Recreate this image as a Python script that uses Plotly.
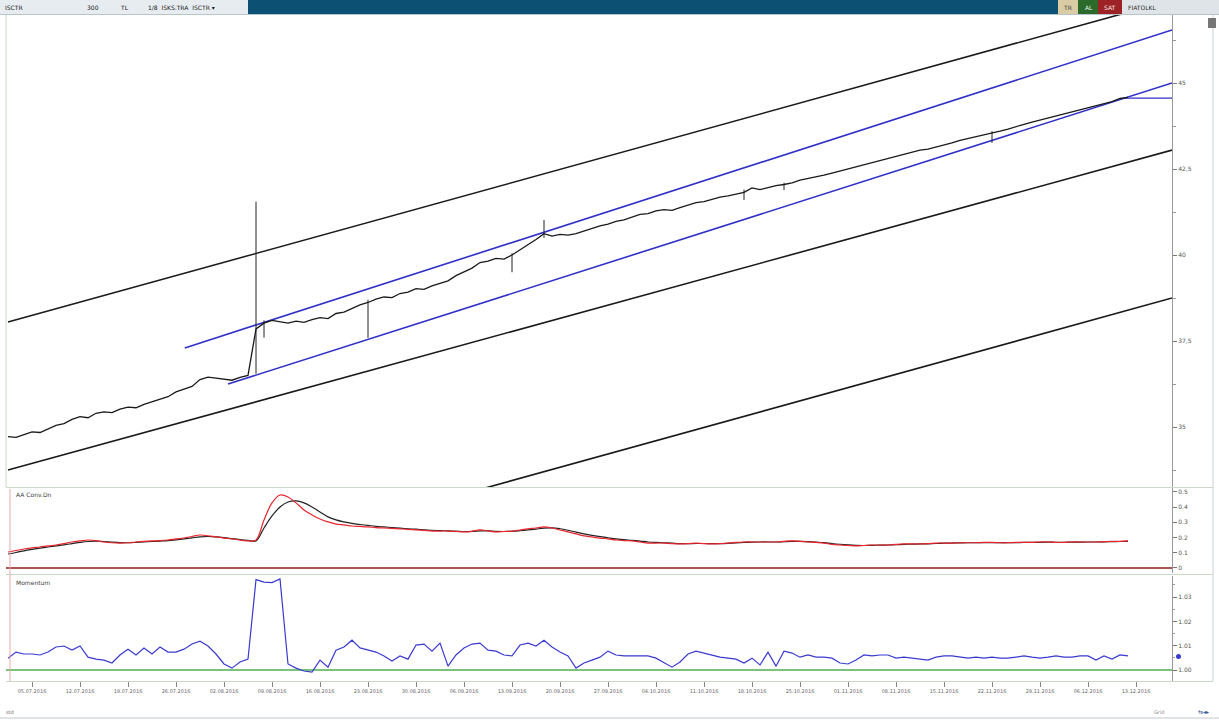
import plotly.graph_objects as go

W, H = 1219, 722

# ---------------- data ----------------
close = [34.72, 34.70, 34.78, 34.86, 34.84, 34.95, 35.05, 35.10, 35.22, 35.30,
         35.27, 35.40, 35.44, 35.42, 35.52, 35.58, 35.56, 35.66, 35.74, 35.80,
         35.88, 36.02, 36.10, 36.18, 36.38, 36.45, 36.42, 36.40, 36.36, 36.44,
         36.50, 37.85, 38.02, 38.10, 38.05, 38.02, 38.08, 38.04, 38.12, 38.18,
         38.15, 38.30, 38.34, 38.45, 38.55, 38.62, 38.72, 38.78, 38.76, 38.88,
         38.92, 39.02, 39.00, 39.10, 39.18, 39.25, 39.40, 39.52, 39.62, 39.78,
         39.82, 39.90, 39.88, 40.00, 40.15, 40.28, 40.45, 40.62, 40.55, 40.60,
         40.58, 40.62, 40.70, 40.78, 40.85, 40.90, 40.98, 41.02, 41.10, 41.18,
         41.20, 41.28, 41.32, 41.30, 41.38, 41.46, 41.52, 41.55, 41.62, 41.68,
         41.72, 41.78, 41.82, 41.95, 41.90, 41.96, 42.02, 42.05, 42.10, 42.18,
         42.22, 42.28, 42.32, 42.38, 42.44, 42.50, 42.58, 42.62, 42.68, 42.76,
         42.80, 42.88, 42.92, 42.98, 43.05, 43.08, 43.14, 43.18, 43.26, 43.33,
         43.38, 43.45, 43.50, 43.54, 43.60, 43.66, 43.74, 43.80, 43.86, 43.92,
         43.98, 44.02, 44.10, 44.16, 44.20, 44.28, 44.34, 44.40, 44.46, 44.55,
         44.58]
bar_index = list(range(len(close)))

wick_idx = [31, 32, 45, 63, 67, 92, 97, 123]
wick_high = [41.55, 38.10, 38.70, 40.05, 41.02, 41.90, 42.10, 43.60]
wick_low = [36.55, 37.60, 37.59, 39.50, 40.50, 41.60, 41.89, 43.26]

conv_fast = [0.105, 0.115, 0.125, 0.132, 0.138, 0.145, 0.151, 0.160, 0.171, 0.178,
             0.184, 0.180, 0.171, 0.166, 0.164, 0.166, 0.171, 0.175, 0.178, 0.180,
             0.184, 0.191, 0.197, 0.207, 0.217, 0.212, 0.204, 0.197, 0.191, 0.184,
             0.178, 0.184, 0.316, 0.428, 0.480, 0.467, 0.428, 0.382, 0.349, 0.322,
             0.303, 0.289, 0.283, 0.276, 0.273, 0.270, 0.266, 0.263, 0.260, 0.257,
             0.254, 0.250, 0.247, 0.243, 0.243, 0.243, 0.240, 0.237, 0.242, 0.250,
             0.244, 0.237, 0.240, 0.243, 0.250, 0.257, 0.263, 0.270, 0.263, 0.250,
             0.237, 0.224, 0.211, 0.204, 0.197, 0.191, 0.184, 0.180, 0.178, 0.171,
             0.164, 0.164, 0.164, 0.160, 0.158, 0.160, 0.164, 0.160, 0.158, 0.160,
             0.164, 0.168, 0.171, 0.171, 0.171, 0.171, 0.171, 0.175, 0.178, 0.175,
             0.171, 0.168, 0.164, 0.155, 0.151, 0.148, 0.145, 0.148, 0.151, 0.151,
             0.151, 0.155, 0.158, 0.158, 0.158, 0.160, 0.164, 0.164, 0.164, 0.166,
             0.166, 0.166, 0.168, 0.168, 0.166, 0.166, 0.168, 0.168, 0.168, 0.171,
             0.171, 0.168, 0.168, 0.171, 0.171, 0.171, 0.171, 0.173, 0.175, 0.175,
             0.178]

conv_slow = [0.092, 0.102, 0.113, 0.122, 0.130, 0.138, 0.145, 0.152, 0.160, 0.168,
             0.174, 0.176, 0.174, 0.170, 0.167, 0.166, 0.168, 0.171, 0.174, 0.177,
             0.180, 0.185, 0.191, 0.198, 0.205, 0.207, 0.204, 0.199, 0.193, 0.187,
             0.182, 0.178, 0.263, 0.342, 0.401, 0.434, 0.441, 0.428, 0.401, 0.368,
             0.336, 0.316, 0.303, 0.293, 0.286, 0.280, 0.274, 0.270, 0.266, 0.262,
             0.258, 0.255, 0.251, 0.248, 0.246, 0.244, 0.242, 0.240, 0.240, 0.244,
             0.244, 0.241, 0.240, 0.241, 0.245, 0.250, 0.256, 0.262, 0.264, 0.258,
             0.248, 0.236, 0.224, 0.214, 0.206, 0.199, 0.192, 0.186, 0.182, 0.177,
             0.171, 0.168, 0.166, 0.163, 0.160, 0.160, 0.161, 0.161, 0.160, 0.160,
             0.162, 0.165, 0.168, 0.170, 0.171, 0.171, 0.171, 0.173, 0.175, 0.175,
             0.173, 0.170, 0.167, 0.161, 0.156, 0.152, 0.149, 0.148, 0.149, 0.150,
             0.151, 0.153, 0.155, 0.157, 0.158, 0.159, 0.161, 0.163, 0.164, 0.165,
             0.166, 0.166, 0.167, 0.167, 0.167, 0.166, 0.167, 0.168, 0.168, 0.169,
             0.170, 0.169, 0.169, 0.170, 0.170, 0.171, 0.171, 0.172, 0.173, 0.174,
             0.175]

momentum = [1.0049, 1.0074, 1.0066, 1.0066, 1.0062, 1.0074, 1.0095, 1.0099, 1.0082, 1.0099,
            1.0053, 1.0045, 1.0041, 1.0029, 1.0062, 1.0086, 1.0062, 1.0091, 1.0066, 1.0095,
            1.0074, 1.0074, 1.0086, 1.0107, 1.0119, 1.0099, 1.0066, 1.0025, 1.0008, 1.0033,
            1.0045, 1.0372, 1.0362, 1.0360, 1.0375, 1.0025, 1.0008, 0.9996, 0.9992, 1.0041,
            1.0012, 1.0082, 1.0095, 1.0123, 1.0091, 1.0082, 1.0074, 1.0058, 1.0037, 1.0058,
            1.0045, 1.0103, 1.0107, 1.0078, 1.0111, 1.0016, 1.0062, 1.0091, 1.0107, 1.0111,
            1.0082, 1.0078, 1.0062, 1.0058, 1.0103, 1.0111, 1.0099, 1.0123, 1.0095, 1.0074,
            1.0058, 1.0008, 1.0029, 1.0041, 1.0053, 1.0078, 1.0062, 1.0058, 1.0058, 1.0058,
            1.0058, 1.0049, 1.0029, 1.0012, 1.0033, 1.0066, 1.0078, 1.0070, 1.0062, 1.0053,
            1.0049, 1.0045, 1.0029, 1.0049, 1.0021, 1.0074, 1.0016, 1.0078, 1.0070, 1.0053,
            1.0062, 1.0053, 1.0053, 1.0049, 1.0029, 1.0025, 1.0041, 1.0062, 1.0058, 1.0062,
            1.0062, 1.0049, 1.0053, 1.0049, 1.0045, 1.0041, 1.0053, 1.0058, 1.0058, 1.0053,
            1.0049, 1.0053, 1.0049, 1.0053, 1.0049, 1.0049, 1.0053, 1.0058, 1.0053, 1.0049,
            1.0053, 1.0058, 1.0053, 1.0053, 1.0058, 1.0058, 1.0041, 1.0058, 1.0045, 1.0062,
            1.0058]

# trend / channel lines (start index, start value, end index, end value)
trend_x0 = [0.0, 0.0, 0.0, 22.1, 27.5]
trend_y0 = [38.05, 33.75, 29.39, 37.30, 36.25]
trend_x1 = [145.5, 145.5, 145.5, 145.5, 145.5]
trend_y1 = [47.41, 43.05, 38.75, 46.54, 45.00]
trend_kind = ["black", "black", "black", "blue", "blue"]

last_price = 44.56
last_price_x = [139.6, 145.5]

price_ticks = [35, 37.5, 40, 42.5, 45]
price_ticktext = ["35", "37,5", "40", "42,5", "45"]
conv_ticks = [0, 0.1, 0.2, 0.3, 0.4, 0.5]
conv_ticktext = ["0", "0.1", "0.2", "0.3", "0.4", "0.5"]
mom_ticks = [1.00, 1.01, 1.02, 1.03]
mom_ticktext = ["1.00", "1.01", "1.02", "1.03"]
date_ticks = [3 + 6 * k for k in range(24)]
date_labels = ["05.07.2016", "12.07.2016", "19.07.2016", "26.07.2016", "02.08.2016", "09.08.2016",
               "16.08.2016", "23.08.2016", "30.08.2016", "06.09.2016", "13.09.2016", "20.09.2016",
               "27.09.2016", "04.10.2016", "11.10.2016", "18.10.2016", "25.10.2016", "01.11.2016",
               "08.11.2016", "15.11.2016", "22.11.2016", "29.11.2016", "06.12.2016", "13.12.2016"]

# ---------------- helpers ----------------
def fx(p):
    return p / W


def fy(p):
    return 1 - p / H


FONT = "DejaVu Sans"
X_DOMAIN = [fx(6), fx(1172)]
X_RANGE = [-0.25, 145.5]

fig = go.Figure()

# channel lines
for x0, y0, x1, y1, kind in zip(trend_x0, trend_y0, trend_x1, trend_y1, trend_kind):
    fig.add_trace(go.Scatter(
        x=[x0, x1], y=[y0, y1], mode="lines", xaxis="x", yaxis="y",
        line=dict(color="#1a1a1a" if kind == "black" else "#3030c8", width=1.6),
        hoverinfo="skip", showlegend=False))

# last price line
fig.add_trace(go.Scatter(x=last_price_x, y=[last_price, last_price], mode="lines",
                         xaxis="x", yaxis="y", line=dict(color="#3030c8", width=1.2),
                         hoverinfo="skip", showlegend=False))

# wicks
wx, wy = [], []
for i, hi, lo in zip(wick_idx, wick_high, wick_low):
    wx += [i, i, None]
    wy += [lo, hi, None]
fig.add_trace(go.Scatter(x=wx, y=wy, mode="lines", xaxis="x", yaxis="y",
                         line=dict(color="#222222", width=1), hoverinfo="skip",
                         showlegend=False))

# price
fig.add_trace(go.Scatter(x=bar_index, y=close, mode="lines", xaxis="x", yaxis="y",
                         line=dict(color="#1a1a1a", width=1.3), showlegend=False))

# indicator panel 1
fig.add_trace(go.Scatter(x=[X_RANGE[0], X_RANGE[1]], y=[0, 0], mode="lines",
                         xaxis="x2", yaxis="y2", line=dict(color="#8e1b1b", width=1.6),
                         hoverinfo="skip", showlegend=False))
fig.add_trace(go.Scatter(x=bar_index, y=conv_slow, mode="lines", xaxis="x2", yaxis="y2",
                         line=dict(color="#222222", width=1.2, shape="spline"),
                         showlegend=False))
fig.add_trace(go.Scatter(x=bar_index, y=conv_fast, mode="lines", xaxis="x2", yaxis="y2",
                         line=dict(color="#e8242c", width=1.2, shape="spline"),
                         showlegend=False))

# momentum panel
fig.add_trace(go.Scatter(x=[X_RANGE[0], X_RANGE[1]], y=[1.0, 1.0], mode="lines",
                         xaxis="x3", yaxis="y3", line=dict(color="#4caf50", width=1.6),
                         hoverinfo="skip", showlegend=False))
fig.add_trace(go.Scatter(x=bar_index, y=momentum, mode="lines", xaxis="x3", yaxis="y3",
                         line=dict(color="#3a3ad0", width=1.2), showlegend=False))

axis_common = dict(showgrid=False, zeroline=False, showline=False)
yfont = dict(family=FONT, size=6, color="#555555")

fig.update_layout(
    width=W, height=H, margin=dict(l=0, r=0, t=0, b=0),
    paper_bgcolor="white", plot_bgcolor="white", showlegend=False,
    xaxis=dict(domain=X_DOMAIN, range=X_RANGE, anchor="y", showticklabels=False,
               **axis_common),
    yaxis=dict(domain=[fy(487), fy(15)], range=[33.256, 46.977], side="right",
               tickmode="array", tickvals=price_ticks, ticktext=price_ticktext,
               ticks="outside", ticklen=4, tickcolor="#777", tickfont=yfont,
               minor=dict(dtick=1.25, tick0=35, ticks="outside", ticklen=3, tickcolor="#999"),
               showgrid=False, zeroline=False, showline=True, linecolor="#999999"),
    xaxis2=dict(domain=X_DOMAIN, range=X_RANGE, anchor="y2", matches="x",
                showticklabels=False, **axis_common),
    yaxis2=dict(domain=[fy(573), fy(488)], range=[-0.033, 0.526], side="right",
                tickmode="array", tickvals=conv_ticks, ticktext=conv_ticktext,
                ticks="outside", ticklen=4, tickcolor="#777", tickfont=yfont,
                showgrid=False, zeroline=False, showline=True, linecolor="#999999"),
    xaxis3=dict(domain=X_DOMAIN, range=X_RANGE, anchor="y3", matches="x",
                tickmode="array", tickvals=date_ticks, ticktext=date_labels,
                ticks="outside", ticklen=5, tickcolor="#888",
                tickfont=dict(family=FONT, size=5, color="#666666"),
                tickangle=0, **axis_common),
    yaxis3=dict(domain=[fy(681), fy(576)], range=[0.9955, 1.0387], side="right",
                tickmode="array", tickvals=mom_ticks, ticktext=mom_ticktext,
                ticks="outside", ticklen=4, tickcolor="#777", tickfont=yfont,
                minor=dict(dtick=0.005, tick0=1.0, ticks="outside", ticklen=2, tickcolor="#999"),
                showgrid=False, zeroline=False, showline=True, linecolor="#999999"),
)

shapes = []
# toolbar
tb = [fy(14), 1]
shapes.append(dict(type="rect", xref="paper", yref="paper", x0=0, x1=fx(248), y0=tb[0], y1=tb[1],
                   fillcolor="#e6ecf0", line=dict(width=0), layer="above"))
shapes.append(dict(type="rect", xref="paper", yref="paper", x0=fx(248), x1=fx(1058), y0=tb[0], y1=tb[1],
                   fillcolor="#0c5073", line=dict(width=0), layer="above"))
shapes.append(dict(type="rect", xref="paper", yref="paper", x0=fx(1058), x1=fx(1078), y0=tb[0], y1=tb[1],
                   fillcolor="#d9cba3", line=dict(width=0), layer="above"))
shapes.append(dict(type="rect", xref="paper", yref="paper", x0=fx(1078), x1=fx(1098), y0=tb[0], y1=tb[1],
                   fillcolor="#2c6a2c", line=dict(width=0), layer="above"))
shapes.append(dict(type="rect", xref="paper", yref="paper", x0=fx(1098), x1=fx(1122), y0=tb[0], y1=tb[1],
                   fillcolor="#9c2226", line=dict(width=0), layer="above"))
shapes.append(dict(type="rect", xref="paper", yref="paper", x0=fx(1122), x1=fx(1219), y0=tb[0], y1=tb[1],
                   fillcolor="#dfe4e8", line=dict(width=0), layer="above"))
shapes.append(dict(type="line", xref="paper", yref="paper", x0=0, x1=1, y0=fy(14.5), y1=fy(14.5),
                   line=dict(color="#b8c4cc", width=1)))
# left frame of the main chart
shapes.append(dict(type="line", xref="paper", yref="paper", x0=fx(6), x1=fx(6), y0=fy(487), y1=fy(15),
                   line=dict(color="#c9d6c9", width=1)))
# right scrollbar strip
shapes.append(dict(type="line", xref="paper", yref="paper", x0=fx(1213), x1=fx(1213), y0=fy(681), y1=fy(15),
                   line=dict(color="#c8d2d8", width=1)))
shapes.append(dict(type="rect", xref="paper", yref="paper", x0=fx(1208), x1=fx(1216), y0=fy(28), y1=fy(18),
                   fillcolor="#777777", line=dict(width=0)))
# panel separators / left edge
for yy in (487.5, 574.5, 681.5):
    shapes.append(dict(type="line", xref="paper", yref="paper", x0=fx(6), x1=fx(1213), y0=fy(yy), y1=fy(yy),
                       line=dict(color="#c9d9c9", width=1)))
shapes.append(dict(type="line", xref="paper", yref="paper", x0=fx(10), x1=fx(10), y0=fy(681), y1=fy(489),
                   line=dict(color="#e6a9a9", width=1)))
shapes.append(dict(type="line", xref="paper", yref="paper", x0=0, x1=1, y0=fy(718), y1=fy(718),
                   line=dict(color="#c0c8cc", width=1)))
# current value marker momentum
shapes.append(dict(type="circle", xref="paper", yref="paper", x0=fx(1176), x1=fx(1181), y0=fy(659), y1=fy(654),
                   fillcolor="#3a3ad0", line=dict(width=0)))
fig.update_layout(shapes=shapes)

ann = []
def txt(x, y, s, color="#333333", size=6, anchor="left"):
    ann.append(dict(xref="paper", yref="paper", x=fx(x), y=fy(y), text=s, showarrow=False,
                    xanchor=anchor, yanchor="middle",
                    font=dict(family=FONT, size=size, color=color)))

txt(3, 7, "ISCTR", "#222")
txt(85, 7, "300", "#222")
txt(118, 7, "TL", "#222")
txt(146, 7, "1/8  ISKS.TRA  ISCTR ▾", "#222")
txt(1061, 7, "TR", "#444")
txt(1083, 7, "AL", "#e8f5e8")
txt(1102, 7, "SAT", "#fbe9e9")
txt(1126, 7, "FIATOLKL", "#333")
txt(14, 494, "AA Conv.Dn", "#444")
txt(14, 582, "Momentum", "#444")
txt(4, 712, "std", "#666", 5)
txt(1152, 712, "Grid", "#888", 5)
txt(1196, 711, "⇆◂▸", "#3a5a9a", 6)
fig.update_layout(annotations=ann)

fig.write_html("out.html", config={"displayModeBar": False},
               post_script="document.body.style.margin='0';document.body.style.overflow='hidden';")
